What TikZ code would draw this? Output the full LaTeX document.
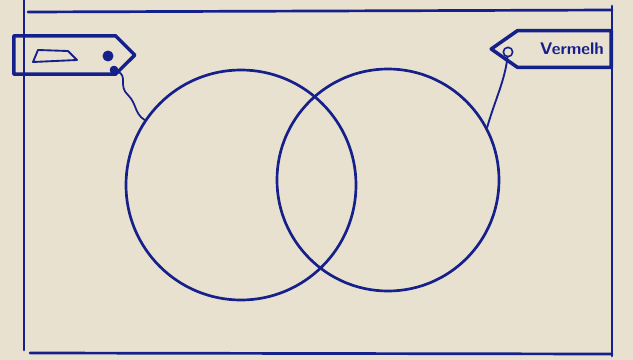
\documentclass[tikz,border=0pt]{standalone}
\usetikzlibrary{shapes.symbols}
\definecolor{paper}{HTML}{E9E1CF}
\definecolor{ink}{HTML}{16208A}

\begin{document}
\begin{tikzpicture}[x=0.03cm,y=-0.03cm,ink,line width=2.3pt,line cap=round,line join=round,
  tag/.style={draw,shape=signal,line width=3pt,minimum height=1.15cm,minimum width=3.63cm,inner sep=0pt},
  hole/.style={draw,circle,fill=ink,inner sep=0pt,minimum size=7pt},
  ring/.style={draw,circle,inner sep=0pt}]
  \fill[paper] (0,0) rectangle (633,360);
  \useasboundingbox (0,0) rectangle (633,360);
  \draw (24,0) -- (24,350);
  \draw (28,12) -- (612,10);
  \draw (612,6) -- (612,356);
  \draw (30,353) -- (612,354);
  \node[ring,minimum size=6.9cm] (lcirc) at (241,185) {};
  \node[ring,minimum size=6.66cm] (rcirc) at (388,180) {};
  \node[tag,signal to=east,signal pointer angle=90,anchor=west] (ltag) at (12,55) {};
  \node[tag,signal to=west,signal pointer angle=70,minimum height=1.1cm,minimum width=3.6cm,
    font=\sffamily\bfseries\Large,text=ink,anchor=east] (rtag) at (613,49) {\hspace*{16pt}Vermelh\hspace*{3pt}};
  \draw[line width=1.6pt] (38,50) -- (68,51) -- (77,60) -- (33,62) -- cycle;
  \node[hole] (lhole) at (108,56) {};
  \node[hole,minimum size=5pt] (lknot) at (114,70) {};
  \node[hole,fill=none,minimum size=8pt,line width=1.4pt] (rhole) at (508,52) {};
  \draw[line width=1.5pt] (lknot) .. controls (128,76) and (118,86) .. (128,95)
    .. controls (137,104) and (134,113) .. (lcirc.146);
  \draw[line width=1.6pt] (rhole) .. controls (505,80) and (495,100) .. (rcirc.28);
\end{tikzpicture}
\end{document}
